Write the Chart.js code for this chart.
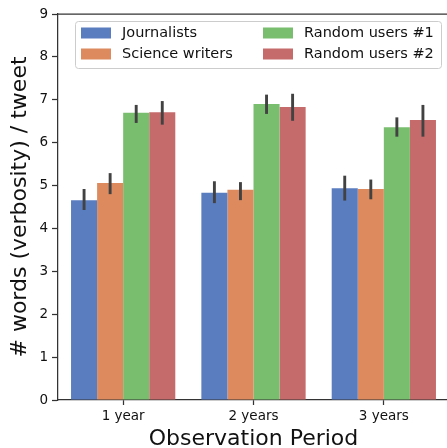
<!DOCTYPE html>
<html><head><meta charset="utf-8">
<script src="https://cdn.jsdelivr.net/npm/chart.js@4"></script>
<style>html,body{margin:0;padding:0;overflow:hidden;background:#fff;width:447px;height:448px}canvas{display:block}</style>
</head><body>
<canvas id="c" width="452" height="448"></canvas>
<script>
const categories = ['1 year', '2 years', '3 years'];
const seriesNames = ['Journalists', 'Science writers', 'Random users #1', 'Random users #2'];
const journalists      = [4.66, 4.83, 4.94];
const journalistsLow   = [4.43, 4.59, 4.65];
const journalistsHigh  = [4.92, 5.10, 5.23];
const scienceWriters     = [5.06, 4.90, 4.92];
const scienceWritersLow  = [4.80, 4.66, 4.68];
const scienceWritersHigh = [5.29, 5.08, 5.14];
const random1     = [6.70, 6.90, 6.36];
const random1Low  = [6.46, 6.67, 6.14];
const random1High = [6.88, 7.12, 6.59];
const random2     = [6.71, 6.83, 6.53];
const random2Low  = [6.42, 6.51, 6.14];
const random2High = [6.97, 7.14, 6.88];
const yTicks = [0, 1, 2, 3, 4, 5, 6, 7, 8, 9];
const colors = ['#5a7dc0', '#dc8a5e', '#78be6e', '#c66b6b'];

const FONT = 'DejaVu Sans';
const AX = '#333333';
const TXT = '#111111';

const values = [journalists, scienceWriters, random1, random2];
const lows = [journalistsLow, scienceWritersLow, random1Low, random2Low];
const highs = [journalistsHigh, scienceWritersHigh, random1High, random2High];

const datasets = seriesNames.map((name, i) => ({
  label: name,
  data: values[i],
  errLow: lows[i],
  errHigh: highs[i],
  backgroundColor: colors[i],
  borderWidth: 0,
  categoryPercentage: 0.8,
  barPercentage: 1.0
}));

const errorBars = {
  id: 'errorBars',
  afterDatasetsDraw(chart) {
    const ctx = chart.ctx, y = chart.scales.y;
    ctx.save();
    ctx.strokeStyle = '#424242';
    ctx.lineWidth = 2.9;
    chart.data.datasets.forEach((ds, i) => {
      chart.getDatasetMeta(i).data.forEach((bar, j) => {
        const lo = y.getPixelForValue(ds.errLow[j]);
        const hi = y.getPixelForValue(ds.errHigh[j]);
        ctx.beginPath();
        ctx.moveTo(bar.x, lo);
        ctx.lineTo(bar.x, hi);
        ctx.stroke();
      });
    });
    ctx.restore();
  }
};

const frame = {
  id: 'frame',
  afterDraw(chart) {
    const ctx = chart.ctx, a = chart.chartArea;
    ctx.save();
    ctx.strokeStyle = AX;
    ctx.lineWidth = 1.25;
    ctx.beginPath();
    ctx.moveTo(a.left, a.top);
    ctx.lineTo(a.right, a.top);
    ctx.stroke();
    const bx = a.left + 17.5, by = a.top + 7.5, bw = 366, bh = 47;
    ctx.fillStyle = 'rgba(255,255,255,0.8)';
    ctx.strokeStyle = '#cccccc';
    ctx.lineWidth = 1;
    ctx.beginPath();
    ctx.roundRect(bx, by, bw, bh, 3);
    ctx.fill();
    ctx.stroke();
    ctx.font = '14.5px "' + FONT + '"';
    ctx.textBaseline = 'middle';
    ctx.textAlign = 'left';
    const colX = [a.left + 23, a.left + 205];
    const rowY = [a.top + 19, a.top + 40];
    chart.data.datasets.forEach((ds, i) => {
      const col = Math.floor(i / 2), row = i % 2;
      const x = colX[col], yy = rowY[row];
      ctx.fillStyle = ds.backgroundColor;
      ctx.fillRect(x, yy - 5.5, 30, 11);
      ctx.fillStyle = TXT;
      ctx.fillText(ds.label, x + 41, yy + 0.5);
    });
    ctx.restore();
  }
};

new Chart(document.getElementById('c'), {
  type: 'bar',
  data: { labels: categories, datasets },
  plugins: [errorBars, frame],
  options: {
    responsive: false,
    animation: false,
    devicePixelRatio: 1,
    layout: { padding: { top: 14, right: 3, left: 0, bottom: 0 } },
    plugins: { legend: { display: false }, tooltip: { enabled: false } },
    scales: {
      x: {
        offset: true,
        grid: { display: true, drawOnChartArea: false, offset: false, tickLength: 5, color: AX, tickWidth: 1.25 },
        border: { display: true, color: AX, width: 1.25 },
        ticks: { color: TXT, font: { family: FONT, size: 13.5 }, padding: 3, maxRotation: 0 },
        title: { display: true, text: 'Observation Period', color: TXT, font: { family: FONT, size: 22, lineHeight: 1 }, padding: { top: 0, bottom: -2 } },
        afterFit(s) { s.height = 48; }
      },
      y: {
        min: 0, max: 9,
        afterBuildTicks(s) { s.ticks = yTicks.map(v => ({ value: v })); },
        grid: { display: true, drawOnChartArea: false, tickLength: 6, color: AX, tickWidth: 1.25 },
        border: { display: true, color: AX, width: 1.25 },
        ticks: { color: TXT, font: { family: FONT, size: 13.5 }, padding: 4 },
        title: { display: true, text: '# words (verbosity) / tweet', color: TXT, font: { family: FONT, size: 22, lineHeight: 1 }, padding: { top: 9, bottom: 0 } },
        afterFit(s) { s.width = 58; }
      }
    }
  }
});
</script>
</body></html>
